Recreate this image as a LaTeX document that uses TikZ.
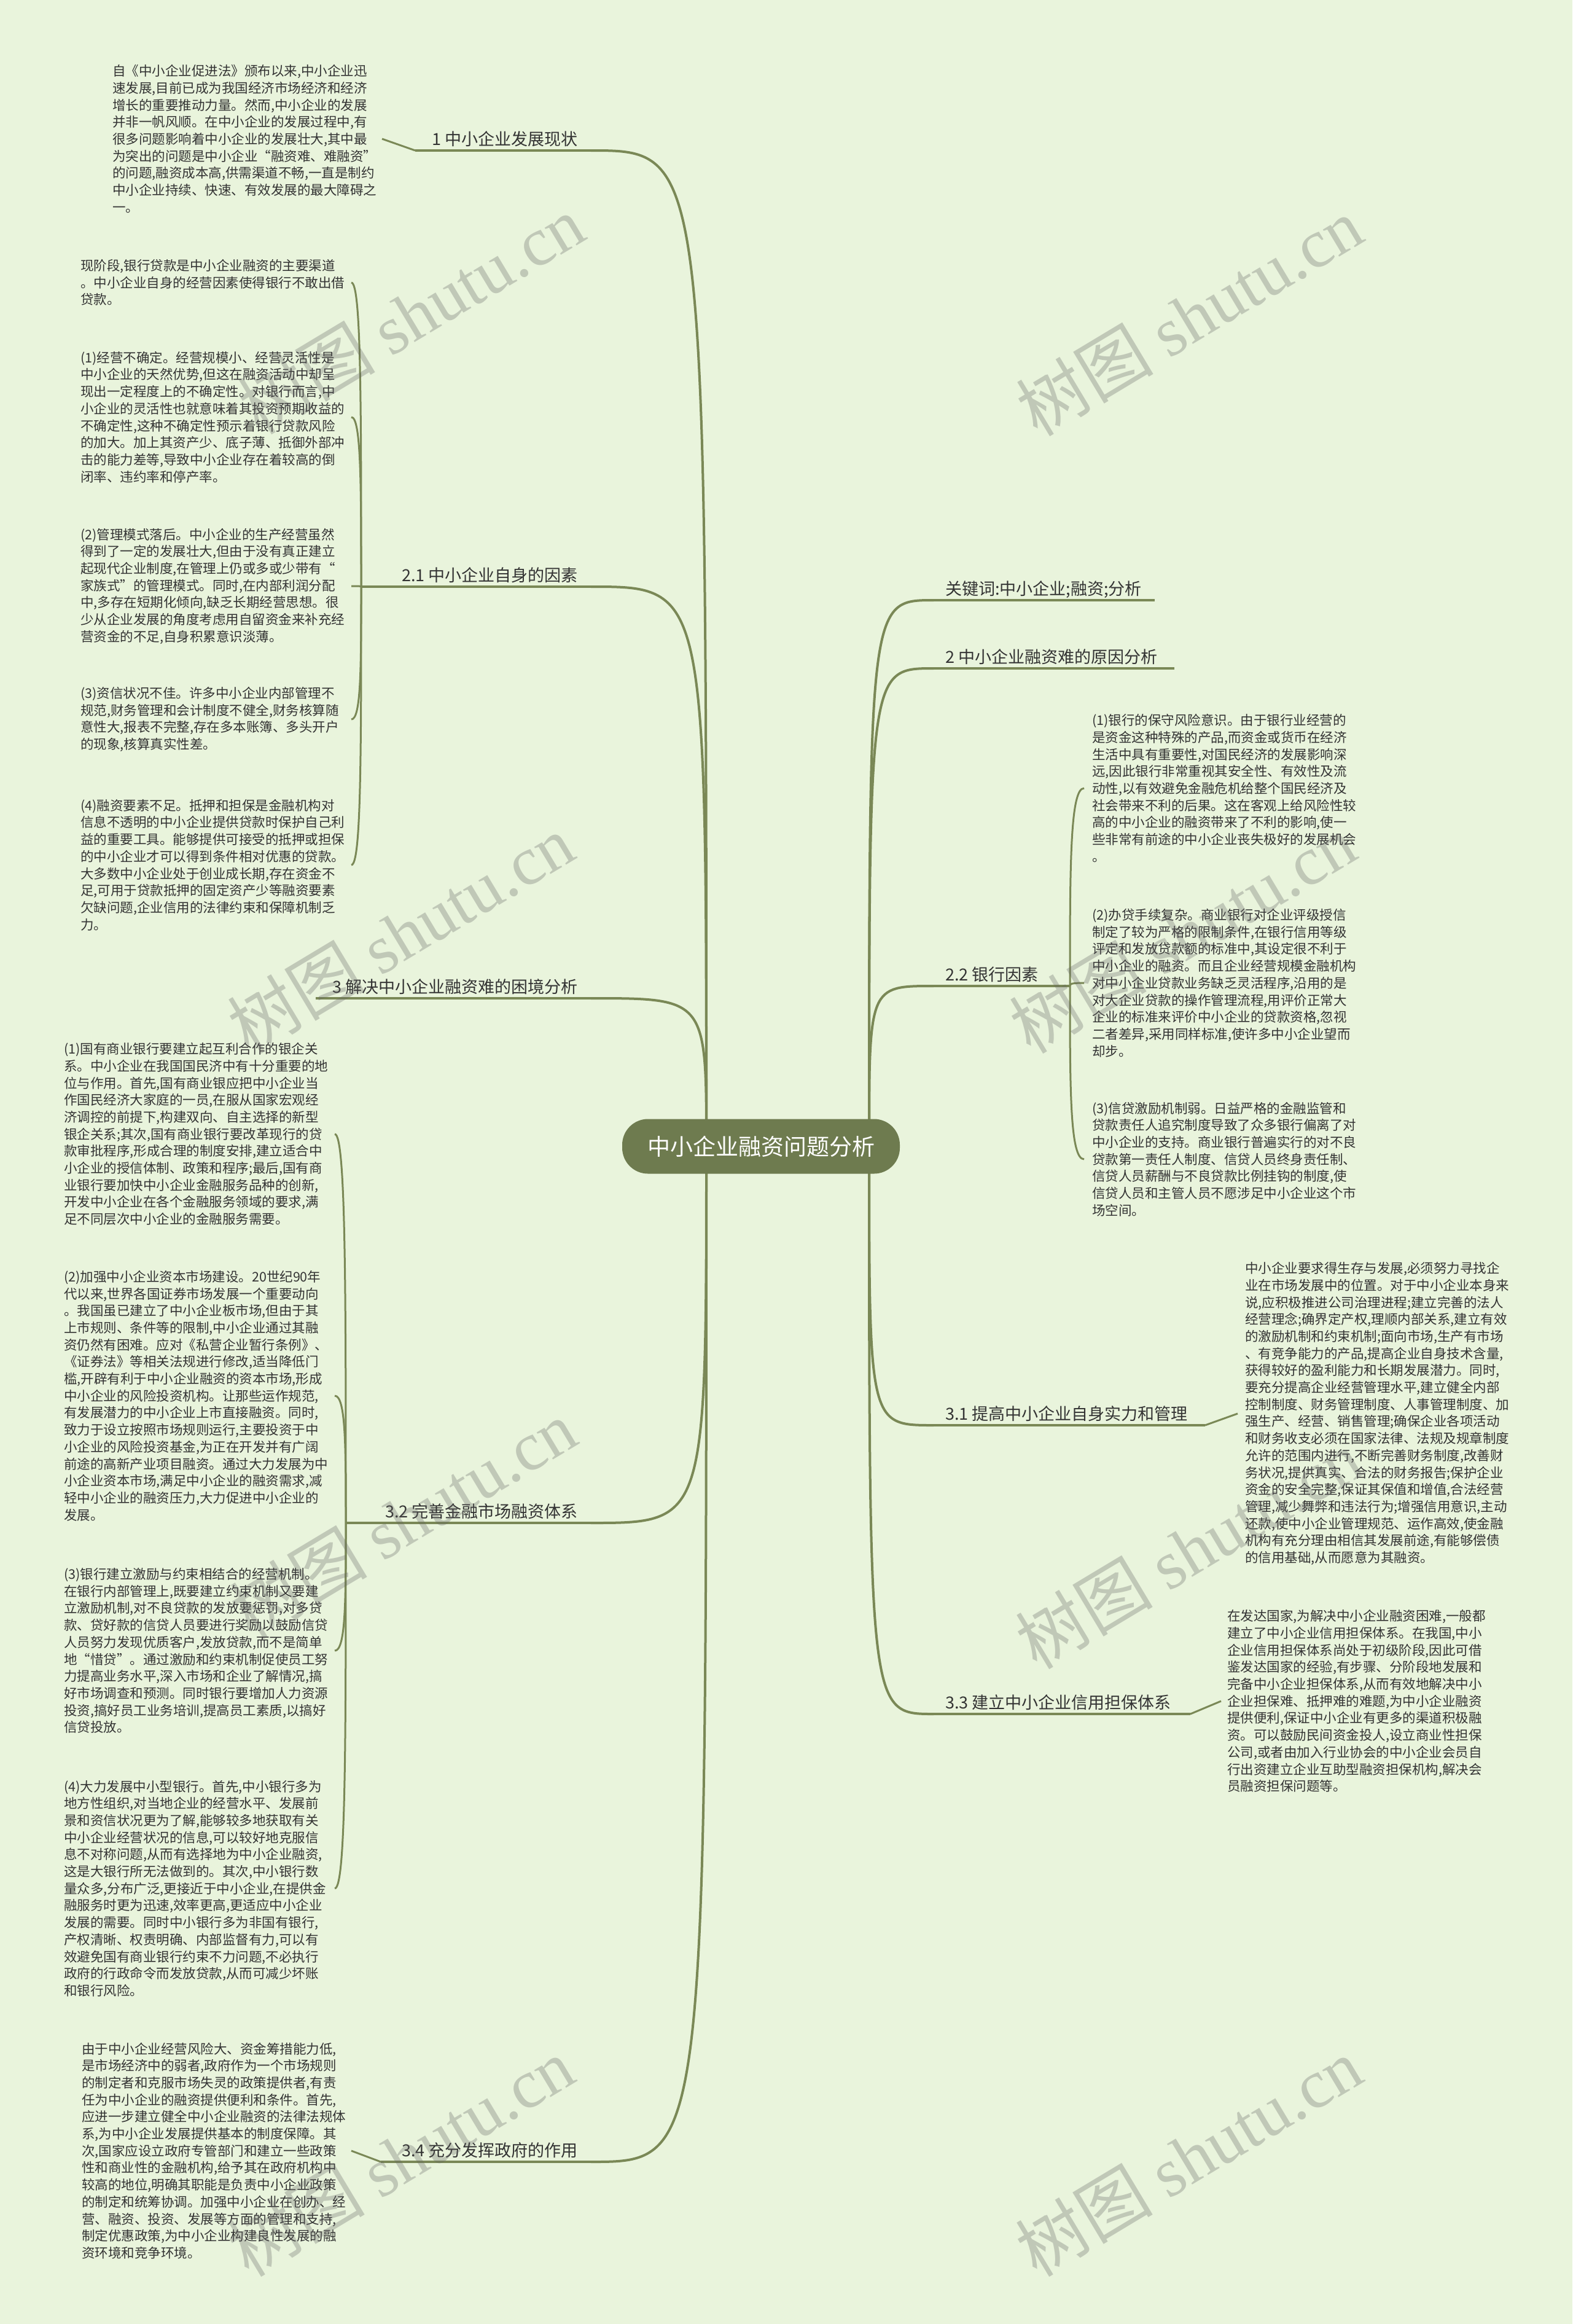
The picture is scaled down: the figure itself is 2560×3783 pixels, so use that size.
\documentclass[tikz,border=0pt]{standalone}
\usepackage{fontspec}
\setmainfont{Noto Sans CJK SC}
\newfontfamily\wmlatin{Liberation Serif}
\usetikzlibrary{calc}
\definecolor{bg}{RGB}{233,244,220}
\definecolor{ln}{RGB}{122,136,86}
\definecolor{ctr}{RGB}{110,123,79}
\definecolor{tx}{RGB}{51,51,51}
\definecolor{wm}{RGB}{100,100,100}
\begin{document}
\begin{tikzpicture}[x=1pt,y=-1pt,
  txt/.style={anchor=west,align=left,inner sep=0pt,text=tx,font=\fontsize{21.5}{27.7}\selectfont},
  lblL/.style={anchor=base east,inner sep=0pt,text=tx,font=\fontsize{27}{32}\selectfont},
  lblR/.style={anchor=base west,inner sep=0pt,text=tx,font=\fontsize{27}{32}\selectfont},
  br/.style={draw=ln,line width=4pt},
  sub/.style={draw=ln,line width=3pt},
  wmark/.style={rotate=31,text=wm,text opacity=0.3,inner sep=0pt,font=\fontsize{112}{120}\selectfont}
]
\path[fill=bg] (0,0) rectangle (2560,3783);

% ---------- coordinates of label underlines ----------
\coordinate (c) at (1239,1866);
\coordinate (sL) at (1150,1866);
\coordinate (sR) at (1415,1866);
% left
\coordinate (L1r) at (962,245);  \coordinate (L1l) at (676,245);
\coordinate (L2r) at (962,955);  \coordinate (L2l) at (588,955);
\coordinate (L3r) at (962,1625); \coordinate (L3l) at (514,1625);
\coordinate (L4r) at (962,2479); \coordinate (L4l) at (563,2479);
\coordinate (L5r) at (962,3519); \coordinate (L5l) at (620,3519);
% right
\coordinate (R1l) at (1520,977);  \coordinate (R1r) at (1880,977);
\coordinate (R2l) at (1520,1088); \coordinate (R2r) at (1912,1088);
\coordinate (R3l) at (1520,1605); \coordinate (R3r) at (1742,1605);
\coordinate (R4l) at (1520,2320); \coordinate (R4r) at (1962,2320);
\coordinate (R5l) at (1520,2790); \coordinate (R5r) at (1938,2790);

% ---------- main branches ----------
\foreach \e in {L1r,L2r,L3r,L4r,L5r}{
  \draw[br] (sL) .. controls (sL|-\e) .. (\e);
}
\foreach \e in {R1l,R2l,R3l,R4l,R5l}{
  \draw[br] (sR) .. controls (sR|-\e) .. (\e);
}
% underlines
\foreach \a/\b in {L1l/L1r,L2l/L2r,L3l/L3r,L4l/L4r,L5l/L5r,R1l/R1r,R2l/R2r,R3l/R3r,R4l/R4r,R5l/R5r}{
  \draw[br] (\a) -- (\b);
}

% ---------- labels ----------
\node[lblL] (l1) at (941,236) {1 中小企业发展现状};
\node[lblL] (l2) at (941,946) {2.1 中小企业自身的因素};
\node[lblL] (l3) at (941,1616) {3 解决中小企业融资难的困境分析};
\node[lblL] (l4) at (941,2470) {3.2 完善金融市场融资体系};
\node[lblL] (l5) at (941,3510) {3.4 充分发挥政府的作用};
\node[lblR] (r1) at (1539,968) {关键词:中小企业;融资;分析};
\node[lblR] (r2) at (1539,1079) {2 中小企业融资难的原因分析};
\node[lblR] (r3) at (1539,1596) {2.2 银行因素};
\node[lblR] (r4) at (1539,2311) {3.1 提高中小企业自身实力和管理};
\node[lblR] (r5) at (1539,2781) {3.3 建立中小企业信用担保体系};

% ---------- text blocks ----------
\node[txt] (b1) at (183,226) {自《中小企业促进法》颁布以来,中小企业迅\\速发展,目前已成为我国经济市场经济和经济\\增长的重要推动力量。然而,中小企业的发展\\并非一帆风顺。在中小企业的发展过程中,有\\很多问题影响着中小企业的发展壮大,其中最\\为突出的问题是中小企业“融资难、难融资”\\的问题,融资成本高,供需渠道不畅,一直是制约\\中小企业持续、快速、有效发展的最大障碍之\\一。};
\node[txt] (b2) at (131,460) {现阶段,银行贷款是中小企业融资的主要渠道\\。中小企业自身的经营因素使得银行不敢出借\\贷款。};
\node[txt] (b3) at (131,679) {(1)经营不确定。经营规模小、经营灵活性是\\中小企业的天然优势,但这在融资活动中却呈\\现出一定程度上的不确定性。对银行而言,中\\小企业的灵活性也就意味着其投资预期收益的\\不确定性,这种不确定性预示着银行贷款风险\\的加大。加上其资产少、底子薄、抵御外部冲\\击的能力差等,导致中小企业存在着较高的倒\\闭率、违约率和停产率。};
\node[txt] (b4) at (131,954) {(2)管理模式落后。中小企业的生产经营虽然\\得到了一定的发展壮大,但由于没有真正建立\\起现代企业制度,在管理上仍或多或少带有“\\家族式”的管理模式。同时,在内部利润分配\\中,多存在短期化倾向,缺乏长期经营思想。很\\少从企业发展的角度考虑用自留资金来补充经\\营资金的不足,自身积累意识淡薄。};
\node[txt] (b5) at (131,1171) {(3)资信状况不佳。许多中小企业内部管理不\\规范,财务管理和会计制度不健全,财务核算随\\意性大,报表不完整,存在多本账簿、多头开户\\的现象,核算真实性差。};
\node[txt] (b6) at (131,1408) {(4)融资要素不足。抵押和担保是金融机构对\\信息不透明的中小企业提供贷款时保护自己利\\益的重要工具。能够提供可接受的抵押或担保\\的中小企业才可以得到条件相对优惠的贷款。\\大多数中小企业处于创业成长期,存在资金不\\足,可用于贷款抵押的固定资产少等融资要素\\欠缺问题,企业信用的法律约束和保障机制乏\\力。};
\node[txt] (b7) at (104,1846) {(1)国有商业银行要建立起互利合作的银企关\\系。中小企业在我国国民济中有十分重要的地\\位与作用。首先,国有商业银应把中小企业当\\作国民经济大家庭的一员,在服从国家宏观经\\济调控的前提下,构建双向、自主选择的新型\\银企关系;其次,国有商业银行要改革现行的贷\\款审批程序,形成合理的制度安排,建立适合中\\小企业的授信体制、政策和程序;最后,国有商\\业银行要加快中小企业金融服务品种的创新,\\开发中小企业在各个金融服务领域的要求,满\\足不同层次中小企业的金融服务需要。};
\node[txt] (b8) at (104,2272) {(2)加强中小企业资本市场建设。20世纪90年\\代以来,世界各国证券市场发展一个重要动向\\。我国虽已建立了中小企业板市场,但由于其\\上市规则、条件等的限制,中小企业通过其融\\资仍然有困难。应对《私营企业暂行条例》、\\《证券法》等相关法规进行修改,适当降低门\\槛,开辟有利于中小企业融资的资本市场,形成\\中小企业的风险投资机构。让那些运作规范,\\有发展潜力的中小企业上市直接融资。同时,\\致力于设立按照市场规则运行,主要投资于中\\小企业的风险投资基金,为正在开发并有广阔\\前途的高新产业项目融资。通过大力发展为中\\小企业资本市场,满足中小企业的融资需求,减\\轻中小企业的融资压力,大力促进中小企业的\\发展。};
\node[txt] (b9) at (104,2687) {(3)银行建立激励与约束相结合的经营机制。\\在银行内部管理上,既要建立约束机制又要建\\立激励机制,对不良贷款的发放要惩罚,对多贷\\款、贷好款的信贷人员要进行奖励以鼓励信贷\\人员努力发现优质客户,发放贷款,而不是简单\\地“惜贷”。通过激励和约束机制促使员工努\\力提高业务水平,深入市场和企业了解情况,搞\\好市场调查和预测。同时银行要增加人力资源\\投资,搞好员工业务培训,提高员工素质,以搞好\\信贷投放。};
\node[txt] (b10) at (104,3074) {(4)大力发展中小型银行。首先,中小银行多为\\地方性组织,对当地企业的经营水平、发展前\\景和资信状况更为了解,能够较多地获取有关\\中小企业经营状况的信息,可以较好地克服信\\息不对称问题,从而有选择地为中小企业融资,\\这是大银行所无法做到的。其次,中小银行数\\量众多,分布广泛,更接近于中小企业,在提供金\\融服务时更为迅速,效率更高,更适应中小企业\\发展的需要。同时中小银行多为非国有银行,\\产权清晰、权责明确、内部监督有力,可以有\\效避免国有商业银行约束不力问题,不必执行\\政府的行政命令而发放贷款,从而可减少坏账\\和银行风险。};
\node[txt] (b11) at (133,3501) {由于中小企业经营风险大、资金筹措能力低,\\是市场经济中的弱者,政府作为一个市场规则\\的制定者和克服市场失灵的政策提供者,有责\\任为中小企业的融资提供便利和条件。首先,\\应进一步建立健全中小企业融资的法律法规体\\系,为中小企业发展提供基本的制度保障。其\\次,国家应设立政府专管部门和建立一些政策\\性和商业性的金融机构,给予其在政府机构中\\较高的地位,明确其职能是负责中小企业政策\\的制定和统筹协调。加强中小企业在创办、经\\营、融资、投资、发展等方面的管理和支持,\\制定优惠政策,为中小企业构建良性发展的融\\资环境和竞争环境。};

\node[txt] (rb1) at (1778,1283) {(1)银行的保守风险意识。由于银行业经营的\\是资金这种特殊的产品,而资金或货币在经济\\生活中具有重要性,对国民经济的发展影响深\\远,因此银行非常重视其安全性、有效性及流\\动性,以有效避免金融危机给整个国民经济及\\社会带来不利的后果。这在客观上给风险性较\\高的中小企业的融资带来了不利的影响,使一\\些非常有前途的中小企业丧失极好的发展机会\\。};
\node[txt] (rb2) at (1778,1600) {(2)办贷手续复杂。商业银行对企业评级授信\\制定了较为严格的限制条件,在银行信用等级\\评定和发放贷款额的标准中,其设定很不利于\\中小企业的融资。而且企业经营规模金融机构\\对中小企业贷款业务缺乏灵活程序,沿用的是\\对大企业贷款的操作管理流程,用评价正常大\\企业的标准来评价中小企业的贷款资格,忽视\\二者差异,采用同样标准,使许多中小企业望而\\却步。};
\node[txt] (rb3) at (1778,1887) {(3)信贷激励机制弱。日益严格的金融监管和\\贷款责任人追究制度导致了众多银行偏离了对\\中小企业的支持。商业银行普遍实行的对不良\\贷款第一责任人制度、信贷人员终身责任制、\\信贷人员薪酬与不良贷款比例挂钩的制度,使\\信贷人员和主管人员不愿涉足中小企业这个市\\场空间。};
\node[txt] (rb4) at (2027,2301) {中小企业要求得生存与发展,必须努力寻找企\\业在市场发展中的位置。对于中小企业本身来\\说,应积极推进公司治理进程;建立完善的法人\\经营理念;确界定产权,理顺内部关系,建立有效\\的激励机制和约束机制;面向市场,生产有市场\\、有竞争能力的产品,提高企业自身技术含量,\\获得较好的盈利能力和长期发展潜力。同时,\\要充分提高企业经营管理水平,建立健全内部\\控制制度、财务管理制度、人事管理制度、加\\强生产、经营、销售管理;确保企业各项活动\\和财务收支必须在国家法律、法规及规章制度\\允许的范围内进行,不断完善财务制度,改善财\\务状况,提供真实、合法的财务报告;保护企业\\资金的安全完整,保证其保值和增值,合法经营\\管理,减少舞弊和违法行为;增强信用意识,主动\\还款,使中小企业管理规范、运作高效,使金融\\机构有充分理由相信其发展前途,有能够偿债\\的信用基础,从而愿意为其融资。};
\node[txt] (rb5) at (1998,2769) {在发达国家,为解决中小企业融资困难,一般都\\建立了中小企业信用担保体系。在我国,中小\\企业信用担保体系尚处于初级阶段,因此可借\\鉴发达国家的经验,有步骤、分阶段地发展和\\完备中小企业担保体系,从而有效地解决中小\\企业担保难、抵押难的难题,为中小企业融资\\提供便利,保证中小企业有更多的渠道积极融\\资。可以鼓励民间资金投人,设立商业性担保\\公司,或者由加入行业协会的中小企业会员自\\行出资建立企业互助型融资担保机构,解决会\\员融资担保问题等。};

% ---------- child connectors ----------
\coordinate (e1) at (622,226);
\draw[sub] (L1l) .. controls ($(L1l)!0.5!(e1)$ |- L1l) and ($(L1l)!0.5!(e1)$ |- e1) .. (e1);
\foreach \n/\y in {b2/460,b3/679,b4/954,b5/1171,b6/1408}{
  \coordinate (e) at (572,\y);
  \draw[sub] (L2l) .. controls ($(L2l)!0.6!(L2l|-e)$) and (L2l|-e) .. (e);
}
\foreach \n/\y in {b7/1846,b8/2272,b9/2687,b10/3074}{
  \coordinate (e) at (545,\y);
  \draw[sub] (L4l) .. controls ($(L4l)!0.6!(L4l|-e)$) and (L4l|-e) .. (e);
}
\coordinate (e11) at (572,3501);
\draw[sub] (L5l) .. controls ($(L5l)!0.5!(e11)$ |- L5l) and ($(L5l)!0.5!(e11)$ |- e11) .. (e11);
\foreach \n/\y in {rb1/1283,rb2/1600,rb3/1887}{
  \coordinate (e) at (1765,\y);
  \draw[sub] (R3r) .. controls ($(R3r)!0.6!(R3r|-e)$) and (R3r|-e) .. (e);
}
\coordinate (e4) at (2015,2301);
\draw[sub] (R4r) .. controls ($(R4r)!0.5!(e4)$ |- R4r) and ($(R4r)!0.5!(e4)$ |- e4) .. (e4);
\coordinate (e5) at (1988,2769);
\draw[sub] (R5r) .. controls ($(R5r)!0.5!(e5)$ |- R5r) and ($(R5r)!0.5!(e5)$ |- e5) .. (e5);

% ---------- center ----------
\node[fill=ctr,rounded corners=42pt,minimum width=452pt,minimum height=89pt,text=white,font=\fontsize{37}{44}\selectfont,inner sep=0pt] (center) at (c) {中小企业融资问题分析};

% ---------- watermarks ----------
\foreach \wx/\wy [count=\i] in {669/512,1936/515,652/1520,1925/1520,656/2473,1935/2522,652/3511,1935/3511}{
  \node[wmark] (wm\i) at (\wx,\wy) {树图 {\wmlatin shutu.cn}};
}
\end{tikzpicture}
\end{document}
